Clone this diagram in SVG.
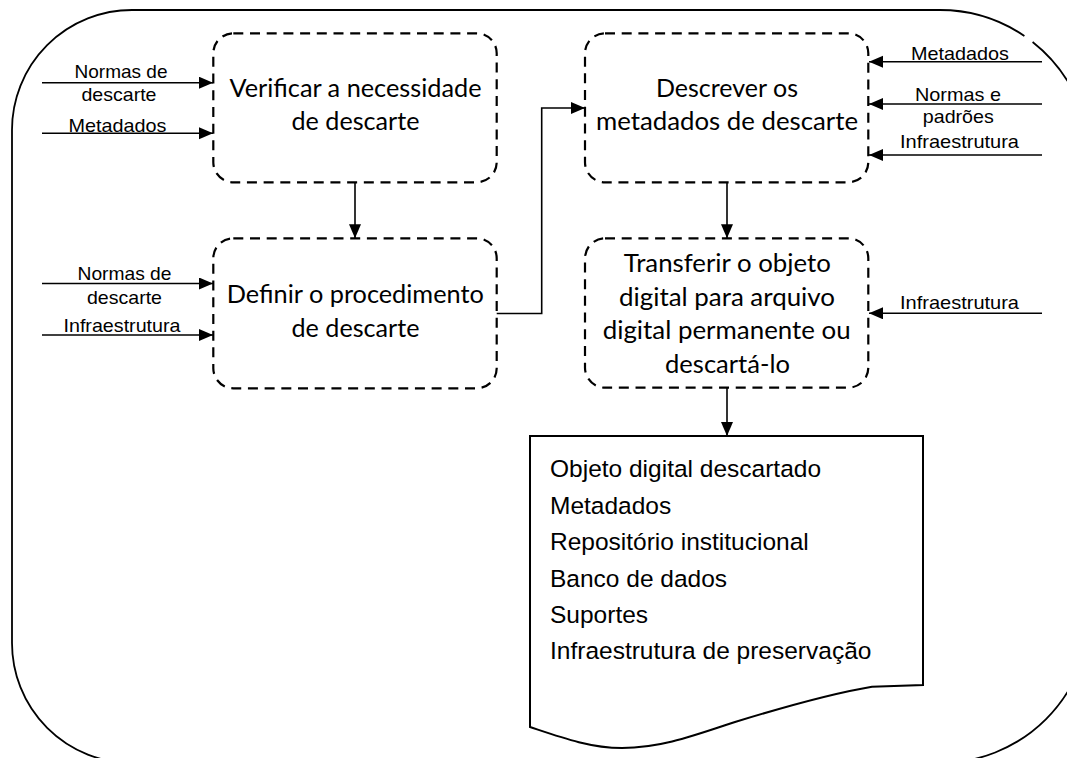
<svg xmlns="http://www.w3.org/2000/svg" width="1067" height="758" viewBox="0 0 1067 758">
<style>
.bg{fill:#fff}
.outer{fill:none;stroke:#000;stroke-width:1.8}
.box{fill:none;stroke:#000;stroke-width:2.2;stroke-dasharray:10 6.7}
.doc{fill:#fff;stroke:#000;stroke-width:2}
.conn{fill:none;stroke:#000;stroke-width:1.6}
.bt{font-family:Lato,"Open Sans","Liberation Sans",sans-serif;font-weight:400;font-size:25px;fill:#000;text-anchor:middle}
.lb{font-family:"Liberation Sans",Arial,sans-serif;font-size:18.5px;fill:#000;text-anchor:middle}
.dt{font-family:"Liberation Sans",Arial,sans-serif;font-size:24.5px;fill:#000}
</style>
<defs>
<marker id="ah" markerUnits="userSpaceOnUse" markerWidth="16" markerHeight="14" refX="14" refY="6" orient="auto">
<path d="M0,0 L14,6 L0,12 Z" fill="#000"/>
</marker>
</defs>
<rect class="bg" x="0" y="0" width="1067" height="758"/>
<path class="outer" d="M1032.6,42 A150 150 0 0 1 1090 160 V613 A150 150 0 0 1 940 763 H132 A120 120 0 0 1 12 643 V130 A120 120 0 0 1 132 10 H940 A150 150 0 0 1 1024.4 36"/>

<g id="connectors">
<path class="conn" d="M42,82.7 H213" marker-end="url(#ah)"/>
<path class="conn" d="M42,133.3 H213" marker-end="url(#ah)"/>
<path class="conn" d="M42,283.5 H213" marker-end="url(#ah)"/>
<path class="conn" d="M42,335 H213" marker-end="url(#ah)"/>
<path class="conn" d="M1042,61.7 H869" marker-end="url(#ah)"/>
<path class="conn" d="M1042,104 H869" marker-end="url(#ah)"/>
<path class="conn" d="M1042,155 H869" marker-end="url(#ah)"/>
<path class="conn" d="M1042,313.3 H869" marker-end="url(#ah)"/>
<path class="conn" d="M355,182.3 V238.3" marker-end="url(#ah)"/>
<path class="conn" d="M727,182.3 V238.3" marker-end="url(#ah)"/>
<path class="conn" d="M727,387.7 V436" marker-end="url(#ah)"/>
<path class="conn" d="M496.7,313.5 H541.7 V108 H585" marker-end="url(#ah)"/>
</g>

<g id="labels">
<text class="lb" x="121" y="78" textLength="93" lengthAdjust="spacingAndGlyphs">Normas de</text>
<text class="lb" x="119" y="101" textLength="75" lengthAdjust="spacingAndGlyphs">descarte</text>
<text class="lb" x="117.5" y="132" textLength="98" lengthAdjust="spacingAndGlyphs">Metadados</text>
<text class="lb" x="124.5" y="280" textLength="94" lengthAdjust="spacingAndGlyphs">Normas de</text>
<text class="lb" x="124.5" y="304" textLength="75" lengthAdjust="spacingAndGlyphs">descarte</text>
<text class="lb" x="122" y="332" textLength="117" lengthAdjust="spacingAndGlyphs">Infraestrutura</text>
<text class="lb" x="960" y="59.5" textLength="98" lengthAdjust="spacingAndGlyphs">Metadados</text>
<text class="lb" x="958" y="101" textLength="86" lengthAdjust="spacingAndGlyphs">Normas e</text>
<text class="lb" x="958.3" y="123.3" textLength="71" lengthAdjust="spacingAndGlyphs">padrões</text>
<text class="lb" x="959.5" y="148.3" textLength="119" lengthAdjust="spacingAndGlyphs">Infraestrutura</text>
<text class="lb" x="959.5" y="309.3" textLength="119" lengthAdjust="spacingAndGlyphs">Infraestrutura</text>
</g>

<g id="node-verificar">
<rect class="box" x="213.3" y="33.3" width="283.4" height="149" rx="20" ry="20"/>
<text class="bt" x="355.5" y="97.3" textLength="252" lengthAdjust="spacingAndGlyphs">Verificar a necessidade</text>
<text class="bt" x="355.5" y="130" textLength="128" lengthAdjust="spacingAndGlyphs">de descarte</text>
</g>

<g id="node-definir">
<rect class="box" x="213.3" y="238.3" width="283.4" height="150" rx="20" ry="20"/>
<text class="bt" x="355.3" y="303.3" textLength="257" lengthAdjust="spacingAndGlyphs">Definir o procedimento</text>
<text class="bt" x="355.5" y="336.7" textLength="128" lengthAdjust="spacingAndGlyphs">de descarte</text>
</g>

<g id="node-descrever">
<rect class="box" x="585" y="33.3" width="283.3" height="149" rx="20" ry="20"/>
<text class="bt" x="727" y="96.7" textLength="142" lengthAdjust="spacingAndGlyphs">Descrever os</text>
<text class="bt" x="727" y="130" textLength="262" lengthAdjust="spacingAndGlyphs">metadados de descarte</text>
</g>

<g id="node-transferir">
<rect class="box" x="585" y="238.3" width="283.3" height="149.4" rx="20" ry="20"/>
<text class="bt" x="727.3" y="272.3" textLength="207" lengthAdjust="spacingAndGlyphs">Transferir o objeto</text>
<text class="bt" x="727" y="306" textLength="216" lengthAdjust="spacingAndGlyphs">digital para arquivo</text>
<text class="bt" x="726.7" y="339.3" textLength="248" lengthAdjust="spacingAndGlyphs">digital permanente ou</text>
<text class="bt" x="727.5" y="372.7" textLength="125" lengthAdjust="spacingAndGlyphs">descartá-lo</text>
</g>

<g id="node-documento">
<path class="doc" d="M530,436 H923 V685 L872,686.7 C840,692 800,702 735,722 C690,737 660,748 622,748 C590,748 560,737 530,727 Z"/>
<text class="dt" x="550" y="477.3">Objeto digital descartado</text>
<text class="dt" x="550" y="513.5">Metadados</text>
<text class="dt" x="550" y="550">Repositório institucional</text>
<text class="dt" x="550" y="586.5">Banco de dados</text>
<text class="dt" x="550" y="622.8">Suportes</text>
<text class="dt" x="550" y="659">Infraestrutura de preservação</text>
</g>
</svg>
